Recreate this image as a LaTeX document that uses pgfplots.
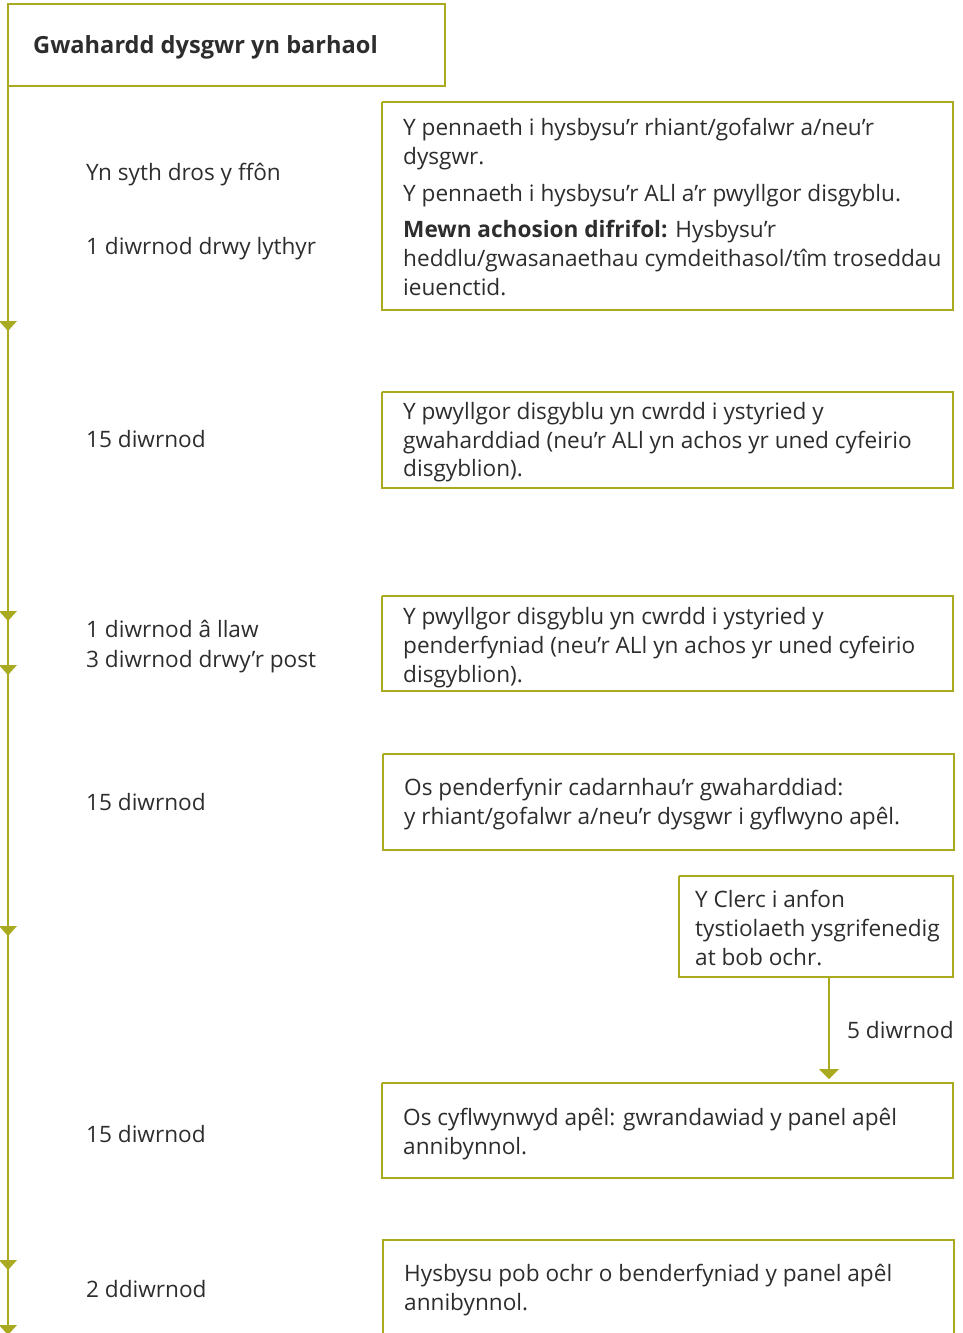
\documentclass[border=0pt]{standalone}
\usepackage{pgfplots}
\pgfplotsset{compat=1.18}
\usepackage{fontspec}
\setmainfont{Open Sans}
\definecolor{olv}{RGB}{170,170,32}
\definecolor{txt}{RGB}{45,45,45}
\tikzset{lbl/.style={anchor=base west, inner sep=0pt, text=txt, font=\fontsize{22.6}{26}\selectfont}}
\begin{document}
\begin{tikzpicture}
\begin{axis}[scale only axis, width=963pt, height=1333pt,
  xmin=0, xmax=963, ymin=0, ymax=1333, y dir=reverse, hide axis, clip=true]
% frame for bounding box
\addplot[white, line width=0.1pt] coordinates {(0,0)(963,0)(963,1333)(0,1333)(0,0)};
% title box and main line
\addplot[olv, line width=2pt] coordinates {(8,1340)(8,4)(445,4)(445,86)(8,86)};
% boxes
\addplot[olv, line width=2pt] coordinates {(382,102)(953,102)(953,310)(382,310)(382,102)};
\addplot[olv, line width=2pt] coordinates {(382,392)(953,392)(953,488)(382,488)(382,392)};
\addplot[olv, line width=2pt] coordinates {(382,596)(953,596)(953,691)(382,691)(382,596)};
\addplot[olv, line width=2pt] coordinates {(383,754)(954,754)(954,850)(383,850)(383,754)};
\addplot[olv, line width=2pt] coordinates {(679,876)(953,876)(953,977)(679,977)(679,876)};
\addplot[olv, line width=2pt] coordinates {(829,977)(829,1072)};
\addplot[olv, line width=2pt] coordinates {(382,1083)(953,1083)(953,1178)(382,1178)(382,1083)};
\addplot[olv, line width=2pt] coordinates {(383,1345)(383,1240)(954,1240)(954,1345)};
% arrow heads
\addplot[fill=olv, draw=none] coordinates {(-1,321)(17,321)(8,331)};
\addplot[fill=olv, draw=none] coordinates {(-1,611)(17,611)(8,621)};
\addplot[fill=olv, draw=none] coordinates {(-1,665)(17,665)(8,675)};
\addplot[fill=olv, draw=none] coordinates {(-1,926)(17,926)(8,936)};
\addplot[fill=olv, draw=none] coordinates {(-1,1260)(17,1260)(8,1270)};
\addplot[fill=olv, draw=none] coordinates {(-1,1325)(17,1325)(8,1335)};
\addplot[fill=olv, draw=none] coordinates {(819,1069)(839,1069)(829,1079)};
% title
\node[lbl, font=\fontsize{23.6}{27}\selectfont\bfseries] at (axis cs:33,53) {Gwahardd dysgwr yn barhaol};
% left column
\node[lbl] at (axis cs:86,180) {Yn syth dros y ffôn};
\node[lbl] at (axis cs:86,254) {1 diwrnod drwy lythyr};
\node[lbl] at (axis cs:86,447) {15 diwrnod};
\node[lbl] at (axis cs:86,637) {1 diwrnod â llaw};
\node[lbl] at (axis cs:86,667) {3 diwrnod drwy’r post};
\node[lbl] at (axis cs:86,810) {15 diwrnod};
\node[lbl] at (axis cs:86,1142) {15 diwrnod};
\node[lbl] at (axis cs:86,1297) {2 ddiwrnod};
\node[lbl] at (axis cs:847,1038) {5 diwrnod};
% box A
\node[lbl] at (axis cs:403,135) {Y pennaeth i hysbysu’r rhiant/gofalwr a/neu’r};
\node[lbl] at (axis cs:403,164) {dysgwr.};
\node[lbl] at (axis cs:403,201) {Y pennaeth i hysbysu’r ALl a’r pwyllgor disgyblu.};
\node[lbl] at (axis cs:403,237) {\textbf{Mewn achosion difrifol:} Hysbysu’r};
\node[lbl] at (axis cs:403,266) {heddlu/gwasanaethau cymdeithasol/tîm troseddau};
\node[lbl] at (axis cs:403,295) {ieuenctid.};
% box B
\node[lbl] at (axis cs:403,419) {Y pwyllgor disgyblu yn cwrdd i ystyried y};
\node[lbl] at (axis cs:403,448) {gwaharddiad (neu’r ALl yn achos yr uned cyfeirio};
\node[lbl] at (axis cs:403,476) {disgyblion).};
% box C
\node[lbl] at (axis cs:403,624) {Y pwyllgor disgyblu yn cwrdd i ystyried y};
\node[lbl] at (axis cs:403,653) {penderfyniad (neu’r ALl yn achos yr uned cyfeirio};
\node[lbl] at (axis cs:403,682) {disgyblion).};
% box D
\node[lbl] at (axis cs:404,795) {Os penderfynir cadarnhau’r gwaharddiad:};
\node[lbl] at (axis cs:404,824) {y rhiant/gofalwr a/neu’r dysgwr i gyflwyno apêl.};
% box E
\node[lbl] at (axis cs:695,907) {Y Clerc i anfon};
\node[lbl] at (axis cs:695,936) {tystiolaeth ysgrifenedig};
\node[lbl] at (axis cs:695,965) {at bob ochr.};
% box F
\node[lbl] at (axis cs:403,1125) {Os cyflwynwyd apêl: gwrandawiad y panel apêl};
\node[lbl] at (axis cs:403,1154) {annibynnol.};
% box G
\node[lbl] at (axis cs:404,1281) {Hysbysu pob ochr o benderfyniad y panel apêl};
\node[lbl] at (axis cs:404,1310) {annibynnol.};
\end{axis}
\end{tikzpicture}
\end{document}
